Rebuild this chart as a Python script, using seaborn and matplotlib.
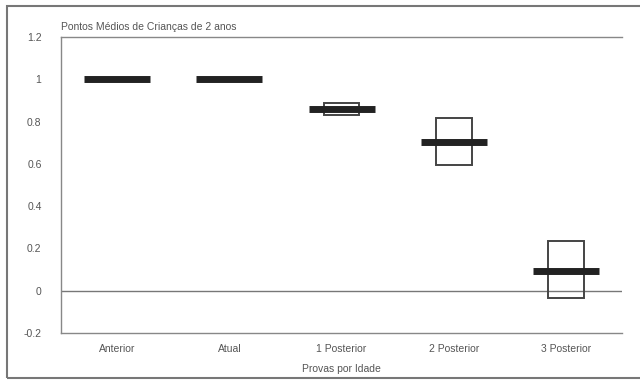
import matplotlib
matplotlib.use("Agg")
import matplotlib.pyplot as plt
import seaborn as sns
import pandas as pd
from matplotlib.patches import Rectangle

categories = ["Anterior", "Atual", "1 Posterior", "2 Posterior", "3 Posterior"]
means = [1.0, 1.0, 0.86, 0.705, 0.095]
highs = [1.0, 1.0, 0.89, 0.815, 0.235]
lows = [1.0, 1.0, 0.83, 0.595, -0.033]
yticks = [-0.2, 0, 0.2, 0.4, 0.6, 0.8, 1, 1.2]
ytick_labels = ["-0.2", "0", "0.2", "0.4", "0.6", "0.8", "1", "1.2"]

df = pd.DataFrame({"cat": categories, "mean": means, "high": highs, "low": lows})

sns.set_theme(style="white")
plt.rcParams["font.family"] = ["Liberation Sans", "DejaVu Sans"]

fig = plt.figure(figsize=(6.4, 3.81), dpi=100)
ax = fig.add_axes([61/640, 1-333/381, (622-61)/640, (333-37)/381])

# boxes (high-low range)
xs = list(range(len(categories)))
ax.bar(xs, df["high"] - df["low"], bottom=df["low"], width=0.32,
       fill=False, edgecolor="#444444", linewidth=1.4, zorder=3)

# mean lines
sns.pointplot(data=df, x="cat", y="mean", order=categories, markers="_",
              linestyle="none", color="#222222", markersize=48,
              markeredgewidth=5, ax=ax, zorder=4)

ax.set_xlim(-0.5, len(categories) - 0.5)
ax.set_ylim(-0.2, 1.2)
ax.set_yticks(yticks)
ax.set_yticklabels(ytick_labels)
ax.axhline(0, color="#777777", linewidth=1.0, zorder=2)

for s in ["left", "top", "bottom"]:
    ax.spines[s].set_visible(True)
    ax.spines[s].set_color("#888888")
    ax.spines[s].set_linewidth(1.0)
ax.spines["right"].set_visible(False)

ax.tick_params(axis="x", length=0, labelsize=7.5, colors="#555555", pad=8)
ax.tick_params(axis="y", length=0, labelsize=7.5, colors="#555555", pad=14)
ax.set_xlabel("Provas por Idade", fontsize=7.5, color="#555555", labelpad=7)
ax.set_ylabel("")
ax.set_title("Pontos Médios de Crianças de 2 anos", fontsize=7.5, color="#555555",
             loc="left", pad=5)

fig.patches.append(Rectangle((7/640, 3/381), 1.0, 372/381, transform=fig.transFigure,
                             fill=False, edgecolor="#777777", linewidth=1.5))

fig.savefig("out.png", dpi=100, facecolor="white")
